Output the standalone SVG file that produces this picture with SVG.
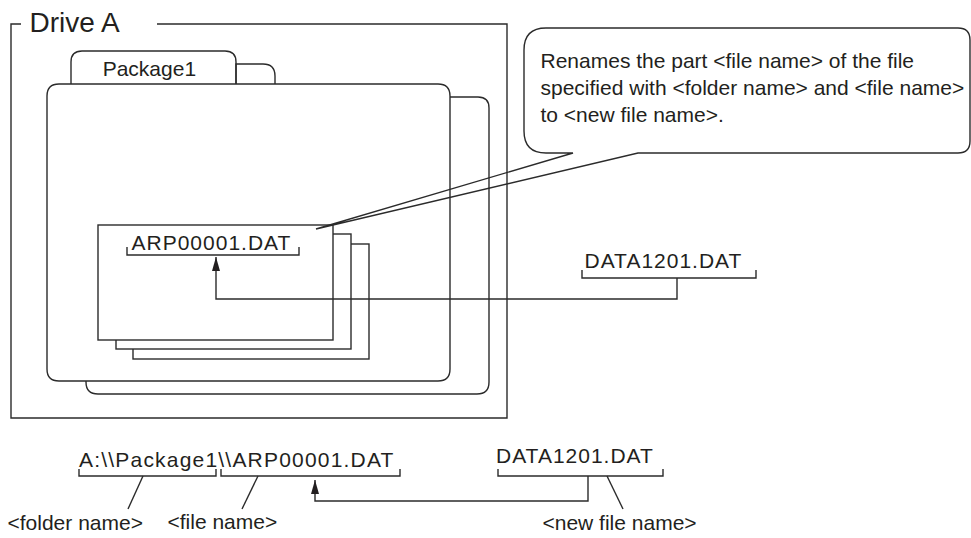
<svg xmlns="http://www.w3.org/2000/svg" width="971" height="538" viewBox="0 0 971 538">
<defs>
<style>
.ln{fill:none;stroke:#2b2b2b;stroke-width:1.4}
.wf{fill:#fff;stroke:#2b2b2b;stroke-width:1.4}
.t{font-family:"Liberation Sans",Arial,sans-serif;font-size:21px;fill:#231f20}
.m{letter-spacing:1px}
</style>
<marker id="ah" viewBox="0 0 14 8" markerWidth="14" markerHeight="8" refX="14" refY="4" orient="auto" markerUnits="userSpaceOnUse">
<path d="M0 0 L14 4 L0 8 Z" fill="#231f20"/>
</marker>
</defs>
<rect width="971" height="538" fill="#fff"/>

<g id="driveA">
<path class="ln" d="M21 24 H11 V418 H507 V24 H157"/>
<text class="t" x="29.5" y="32" style="font-size:28px">Drive A</text>
</g>

<g id="folder-back">
<path class="ln" d="M236 84 V64 H263 Q275 64 275 76 V84"/>
<path class="ln" d="M450 97 H478 Q489 97 489 108 V382 Q489 394 477 394 H98 Q86 394 86 382 V381"/>
</g>

<g id="package1">
<path class="ln" d="M71 84 V62 Q71 51 82 51 H225 Q236 51 236 62 V84"/>
<path class="wf" d="M59 84 H438 Q450 84 450 96 V369 Q450 381 438 381 H59 Q47 381 47 369 V96 Q47 84 59 84 Z"/>
<text class="t" x="102.7" y="76">Package1</text>
</g>

<g id="files">
<rect class="wf" x="133" y="244" width="236" height="115"/>
<rect class="wf" x="116" y="234" width="235" height="115"/>
<rect class="wf" x="98" y="225" width="235" height="115"/>
<text class="t m" x="131.5" y="250">ARP00001.DAT</text>
<path class="ln" d="M127 247 V255 H299 V247"/>
</g>

<g id="callout">
<path class="ln" d="M546 28 H958 Q970 28 970 40 V141 Q970 153 958 153 H638 L316 229 L573 153 H546 Q524 153 524 131 V50 Q524 28 546 28 Z"/>
<text class="t" x="540.5" y="68">Renames the part &lt;file name&gt; of the file</text>
<text class="t" x="540.5" y="95">specified with &lt;folder name&gt; and &lt;file name&gt;</text>
<text class="t" x="540.5" y="121.5">to &lt;new file name&gt;.</text>
</g>

<g id="newname-top">
<text class="t m" x="584.5" y="268">DATA1201.DAT</text>
<path class="ln" d="M582 270 V278 H756 V270"/>
</g>

<g id="path-bottom">
<text class="t" x="79" y="466.5" style="letter-spacing:1.2px">A:\\Package1\\ARP00001.DAT</text>
<path class="ln" d="M79 469 V476 H216 V469"/>
<path class="ln" d="M221 469 V476 H400 V469"/>
<path class="ln" d="M143 476 L128 509"/>
<path class="ln" d="M258 476 L242 509"/>
<text class="t" x="7.5" y="530">&lt;folder name&gt;</text>
<text class="t" x="167.5" y="529">&lt;file name&gt;</text>
</g>

<g id="newname-bottom">
<text class="t m" x="496" y="463">DATA1201.DAT</text>
<path class="ln" d="M498 469 V476 H663 V469"/>
<path class="ln" d="M607 476 L623 509"/>
<text class="t" x="542.5" y="530">&lt;new file name&gt;</text>
</g>

<g id="connectors">
<path class="ln" d="M677 278 V299 H216 V257" marker-end="url(#ah)"/>
<path class="ln" d="M588 476 V501 H315 V480" marker-end="url(#ah)"/>
</g>
</svg>
